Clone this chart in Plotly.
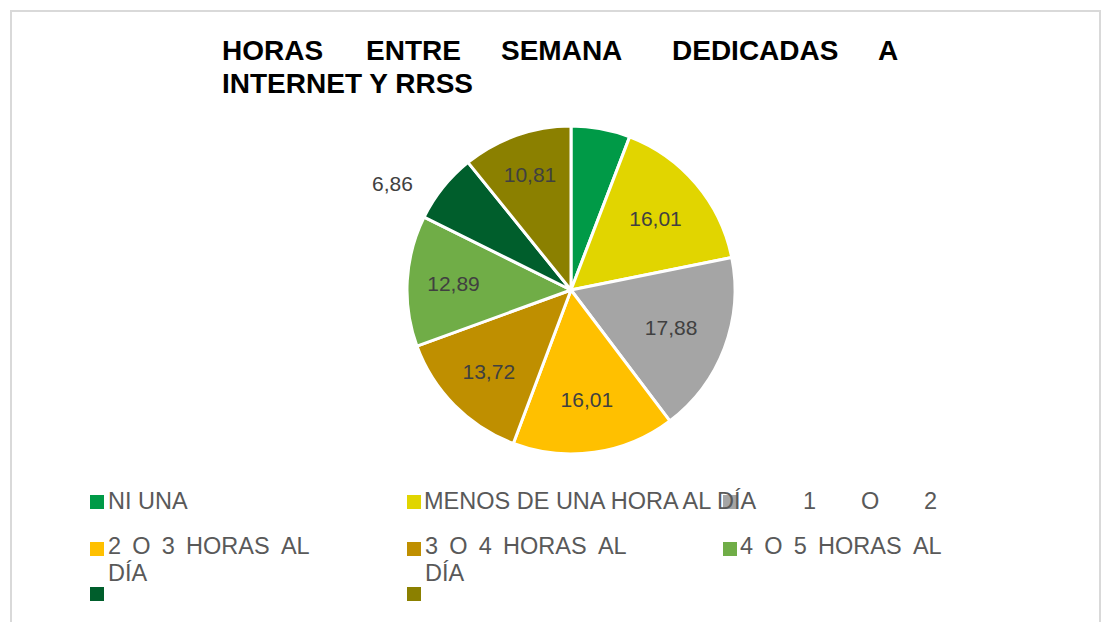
import plotly.graph_objects as go

# Survey data: weekday hours spent on internet and social networks (%)
categories = [
    "NI UNA",
    "MENOS DE UNA HORA AL DÍA",
    "1 O 2 HORAS AL DÍA",
    "2 O 3 HORAS AL DÍA",
    "3 O 4 HORAS AL DÍA",
    "4 O 5 HORAS AL DÍA",
    "5 O 6 HORAS AL DÍA",
    "MÁS DE 6 HORAS AL DÍA",
]
percentages = [5.82, 16.01, 17.88, 16.01, 13.72, 12.89, 6.86, 10.81]
colors = ["#009A47", "#E1D500", "#A5A5A5", "#FFC000",
          "#BF8F00", "#70AD47", "#005E2C", "#8B8000"]
title_line1 = ["HORAS", "ENTRE", "SEMANA", "DEDICADAS", "A"]
title_line2 = "INTERNET Y RRSS"

W, H = 1102, 622
FONT = "Liberation Sans, Arial, sans-serif"


def fx(px):
    return px / W


def fy(py):
    return 1 - py / H


def fmt(v):
    return f"{v:.2f}".replace(".", ",")


labels_txt = [fmt(v) for v in percentages]
# slice labels: first slice unlabelled, 7th label sits outside the pie
text_pos = ["none", "inside", "inside", "inside", "inside", "inside", "none", "inside"]

cx, cy, r = 571, 290, 164

fig = go.Figure()

fig.add_trace(go.Pie(
    labels=categories,
    values=percentages,
    text=labels_txt,
    textinfo="text",
    textposition=text_pos,
    insidetextorientation="horizontal",
    textfont=dict(family=FONT, size=21, color="#404040"),
    sort=False,
    direction="clockwise",
    rotation=0,
    marker=dict(colors=colors, line=dict(color="white", width=3)),
    domain=dict(x=[fx(cx - r), fx(cx + r)], y=[fy(cy + r), fy(cy - r)]),
    showlegend=False,
    hoverinfo="label+value",
))

# outside label for the small dark-green slice
annotations = [dict(
    x=fx(392), y=fy(183), xref="paper", yref="paper",
    text=labels_txt[6], showarrow=False, xanchor="center", yanchor="middle",
    font=dict(family=FONT, size=21, color="#404040"),
)]

# justified title: first line spread over the full width
title_font = dict(family=FONT, size=28, color="black", weight="bold")
title_x = [220, 364, 499, 670, 876]
for word, x in zip(title_line1, title_x):
    annotations.append(dict(
        x=fx(x), y=fy(51), xref="paper", yref="paper", text=word,
        showarrow=False, xanchor="left", yanchor="middle", font=title_font,
    ))
annotations.append(dict(
    x=fx(220), y=fy(83), xref="paper", yref="paper", text=title_line2,
    showarrow=False, xanchor="left", yanchor="middle", font=title_font,
))

# ---- legend drawn on a hidden pixel-scaled axis (clipped at the frame bottom)
mk_x = [97, 414, 730, 97, 414, 730, 97, 414]
mk_y = [502, 502, 502, 549, 549, 549, 594, 594]

fig.add_trace(go.Scatter(
    x=mk_x, y=mk_y, mode="markers",
    marker=dict(symbol="square", size=14, color=colors, line=dict(width=0)),
    showlegend=False, hoverinfo="skip", cliponaxis=True,
))

thin = "\u2009"


def spread(s):
    return (" " + thin).join(s.split(" "))


leg_text, leg_x, leg_y = [], [], []
# row 1
leg_text += [categories[0], categories[1]]
leg_x += [108, 424]
leg_y += [503, 503]
# third item only shows its first words, widely justified
for word, x in zip(categories[2].split(" ")[:3], [805, 863, 926]):
    leg_text.append(word)
    leg_x.append(x - 2)
    leg_y.append(503)
# row 2: wrapped labels, first line justified
for i, x in zip([3, 4, 5], [108, 425, 740]):
    first, last = categories[i].rsplit(" ", 1)
    leg_text.append(spread(first))
    leg_x.append(x)
    leg_y.append(548)
    if i != 5:
        leg_text.append(last)
        leg_x.append(x)
        leg_y.append(575)

fig.add_trace(go.Scatter(
    x=leg_x, y=leg_y, mode="text", text=leg_text,
    textposition="middle right",
    textfont=dict(family=FONT, size=23.5, color="#595959"),
    showlegend=False, hoverinfo="skip", cliponaxis=True,
))

clip_y = 605
fig.update_xaxes(range=[0, W], domain=[0, 1], visible=False, fixedrange=True)
fig.update_yaxes(range=[clip_y, 0], domain=[fy(clip_y), 1], visible=False, fixedrange=True)

# chart frame
frame = dict(color="#D9D9D9", width=2)
shapes = [
    dict(type="line", xref="paper", yref="paper", x0=fx(10), x1=fx(1101), y0=fy(11), y1=fy(11), line=frame),
    dict(type="line", xref="paper", yref="paper", x0=fx(11), x1=fx(11), y0=fy(11), y1=fy(H + 5), line=frame),
    dict(type="line", xref="paper", yref="paper", x0=fx(1100), x1=fx(1100), y0=fy(11), y1=fy(H + 5), line=frame),
]

fig.update_layout(
    width=W, height=H,
    margin=dict(l=0, r=0, t=0, b=0),
    paper_bgcolor="white",
    plot_bgcolor="rgba(0,0,0,0)",
    annotations=annotations,
    shapes=shapes,
    showlegend=False,
)

fig.write_html("out.html")
